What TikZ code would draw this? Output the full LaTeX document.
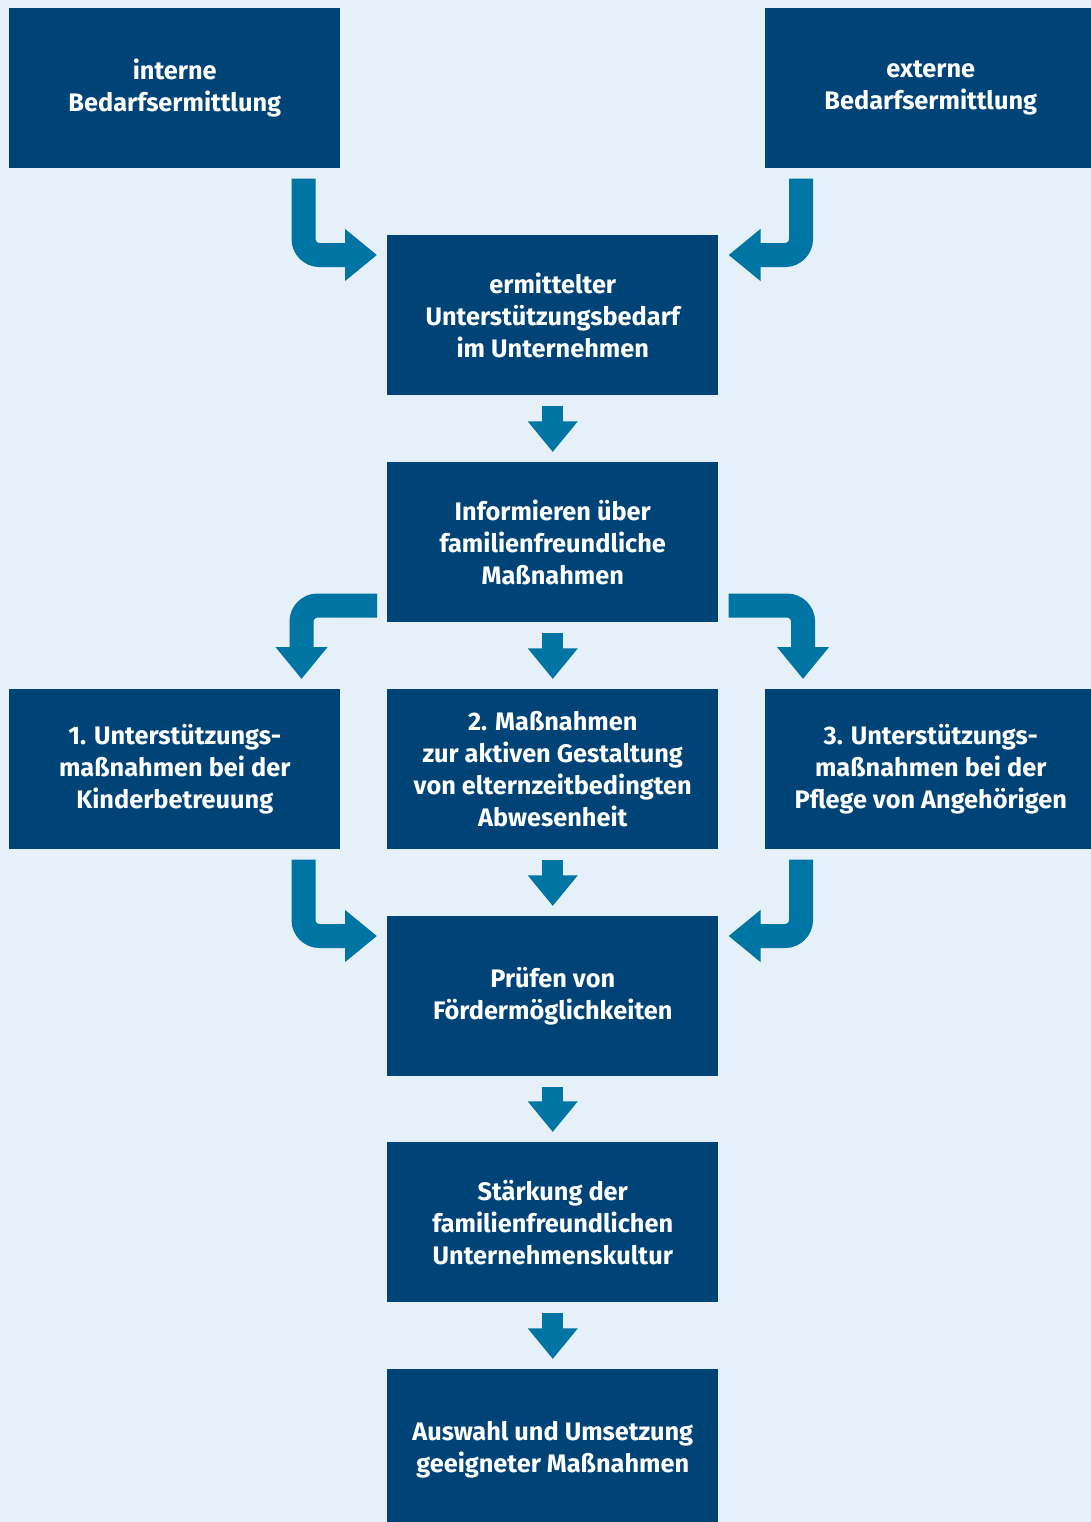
\documentclass[tikz,border=0pt]{standalone}
\usepackage{fontspec}
\setmainfont{Fira Sans}
\usetikzlibrary{arrows.meta,calc}
\definecolor{boxblue}{HTML}{004477}
\definecolor{arrowblue}{HTML}{0074A2}
\definecolor{bgblue}{HTML}{E6F0F8}
\begin{document}
\begin{tikzpicture}[x=0.75pt,y=-0.75pt,
  box/.style={fill=boxblue, text=white, anchor=north west, inner sep=0pt,
    minimum width=248.25pt, minimum height=120pt, align=center,
    font=\bfseries\fontsize{19}{24}\selectfont},
  fat/.style={draw=arrowblue, line width=18pt, rounded corners=12pt,
    -{Triangle[length=24pt,width=37.5pt]}},
  down/.style={draw=arrowblue, line width=16pt,
    -{Triangle[length=23pt,width=36pt]}}]
\fill[bgblue] (0,0) rectangle (1091,1522);
\clip (0,0) rectangle (1091,1522);
\node[box] (int) at (9,8) {interne\\Bedarfsermittlung};
\node[box] (ext) at (765,8) {externe\\Bedarfsermittlung};
\node[box] (erm) at (387,235) {ermittelter\\Unterstützungsbedarf\\im Unternehmen};
\node[box] (inf) at (387,462) {Informieren über\\familienfreundliche\\Maßnahmen};
\node[box] (k1) at (9,689) {1. Unterstützungs-\\maßnahmen bei der\\Kinderbetreuung};
\node[box] (k2) at (387,689) {2. Maßnahmen\\zur aktiven Gestaltung\\von elternzeitbedingten\\Abwesenheit};
\node[box] (k3) at (765,689) {3. Unterstützungs-\\maßnahmen bei der\\Pflege von Angehörigen};
\node[box] (pr) at (387,916) {Prüfen von\\Fördermöglichkeiten};
\node[box] (st) at (387,1142) {Stärkung der\\familienfreundlichen\\Unternehmenskultur};
\node[box] (au) at (387,1369) {Auswahl und Umsetzung\\geeigneter Maßnahmen};
% top
\draw[fat] ($(int.south east)+(-37,10)$) |- ($(erm.north west)+(-10,20)$);
\draw[fat] ($(ext.south west)+(36,10)$) |- ($(erm.north east)+(10,20)$);
\draw[down] ($(erm.south)+(0,10)$) -- ($(inf.north)+(0,-10)$);
% split
\draw[fat] ($(inf.south west)+(-10,-17)$) -| ($(k1.north east)+(-39,-10)$);
\draw[fat] ($(inf.south east)+(10,-17)$) -| ($(k3.north west)+(38,-10)$);
\draw[down] ($(inf.south)+(0,10)$) -- ($(k2.north)+(0,-10)$);
% merge
\draw[fat] ($(k1.south east)+(-37,10)$) |- ($(pr.north west)+(-10,20)$);
\draw[fat] ($(k3.south west)+(36,10)$) |- ($(pr.north east)+(10,20)$);
\draw[down] ($(k2.south)+(0,10)$) -- ($(pr.north)+(0,-10)$);
\draw[down] ($(pr.south)+(0,10)$) -- ($(st.north)+(0,-10)$);
\draw[down] ($(st.south)+(0,10)$) -- ($(au.north)+(0,-10)$);
\end{tikzpicture}
\end{document}
